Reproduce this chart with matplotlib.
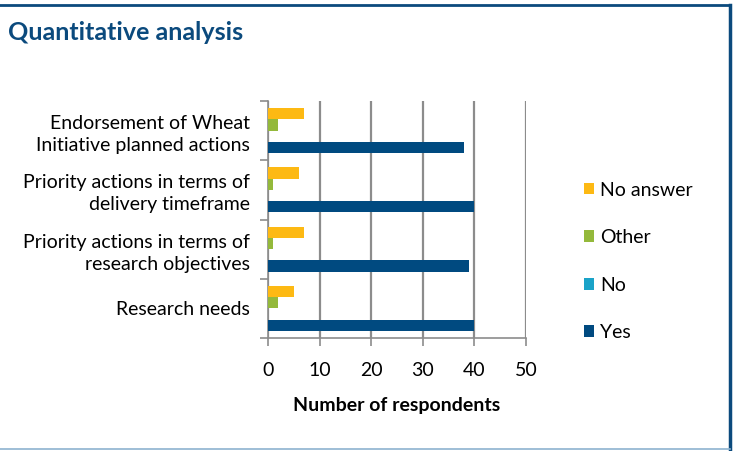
import matplotlib.pyplot as plt
import numpy as np
from matplotlib.lines import Line2D
from matplotlib.patches import Patch

plt.rcParams['font.family'] = ['Lato', 'DejaVu Sans']

# Data (bottom to top on the chart)
categories = ["Research needs",
              "Priority actions in terms of\nresearch objectives",
              "Priority actions in terms of\ndelivery timeframe",
              "Endorsement of Wheat\nInitiative planned actions"]
yes = [40, 39, 40, 38]
no = [0, 0, 0, 0]
other = [2, 1, 1, 2]
no_answer = [5, 7, 6, 7]

series = ["Yes", "No", "Other", "No answer"]
values = [yes, no, other, no_answer]
colors = ["#004A80", "#1AA3C8", "#94B93B", "#FDB913"]
x_ticks = [0, 10, 20, 30, 40, 50]

fig = plt.figure(figsize=(7.36, 4.51), dpi=100)
ax = fig.add_axes([268 / 736, 1 - 338 / 451, 258 / 736, 237 / 451])

y = np.arange(len(categories))
h = 0.19
for i, (name, vals, col) in enumerate(zip(series, values, colors)):
    ax.barh(y + (i - 1.5) * h, vals, height=h, color=col, zorder=3)

ax.set_xlim(0, 50)
ax.set_ylim(-0.5, 3.5)
ax.set_xticks(x_ticks)
ax.set_xticklabels([str(t) for t in x_ticks], fontsize=14)
ax.set_yticks(y)
ax.set_yticklabels(categories, fontsize=14, linespacing=1.35)
ax.tick_params(axis='y', length=0, pad=13)
ax.set_yticks(np.arange(-0.5, 4, 1), minor=True)
ax.tick_params(axis='y', which='minor', length=6, color='#8c8c8c', width=1.2)
ax.tick_params(axis='x', length=6, color='#8c8c8c', width=1.2, pad=11)
ax.grid(axis='x', color='#8c8c8c', linewidth=1.6, zorder=0)
for s in ['top', 'right']:
    ax.spines[s].set_visible(False)
ax.spines['left'].set_color('#8c8c8c')
ax.spines['bottom'].set_color('#8c8c8c')
ax.spines['left'].set_linewidth(1.2)
ax.spines['bottom'].set_linewidth(1.2)
ax.set_xlabel("Number of respondents", fontsize=14, fontweight='bold', labelpad=13)

# legend
handles = [Patch(facecolor=c) for c in reversed(colors)]
fig.legend(handles, list(reversed(series)), loc='upper left',
           bbox_to_anchor=(566 / 736, 1 - 164 / 451), frameon=False,
           fontsize=14, handlelength=0.55, handleheight=0.55,
           handletextpad=0.3, labelspacing=1.57)

fig.text(8 / 736, 1 - 33 / 451, "Quantitative analysis", fontsize=18,
         fontweight='bold', color='#0B4A7D', va='center')

# frame
fig.add_artist(Line2D([0, 730 / 736], [1 - 5 / 451] * 2, color='#0B4A7D', lw=2))
fig.add_artist(Line2D([730 / 736] * 2, [1 - 5 / 451, 1 - 449 / 451], color='#0B4A7D', lw=2.5))
fig.add_artist(Line2D([0, 730 / 736], [1 - 449 / 451] * 2, color='#8DB3D0', lw=1.2))

fig.savefig("out.png", dpi=100)
